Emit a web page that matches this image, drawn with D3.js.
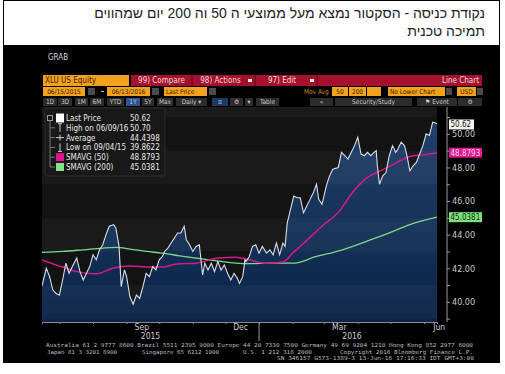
<!DOCTYPE html>
<html>
<head>
<meta charset="utf-8">
<script src="https://cdn.jsdelivr.net/npm/d3@7/dist/d3.min.js"></script>
<style>
  body { margin: 0; background: #fff; }
  #chart { position: relative; width: 505px; height: 374px; }
  #title {
    position: absolute; left: 4px; top: 4px; width: 481px;
    font-family: "Liberation Sans", Arial, sans-serif; font-size: 14px; line-height: 18px;
    color: #222; text-align: right; direction: rtl;
  }
</style>
</head>
<body>
<div id="chart"></div>
<script>
// price series (XLU, last price)
const priceDates = [
  "2015-06-15","2015-06-19","2015-06-22","2015-06-25","2015-06-28","2015-07-01","2015-07-04","2015-07-07",
  "2015-07-10","2015-07-13","2015-07-17","2015-07-20","2015-07-23","2015-07-26","2015-07-29","2015-08-01",
  "2015-08-04","2015-08-07","2015-08-10","2015-08-13","2015-08-16","2015-08-20","2015-08-22","2015-08-25",
  "2015-08-27","2015-08-30","2015-09-01","2015-09-04","2015-09-07","2015-09-10","2015-09-13","2015-09-16",
  "2015-09-19","2015-09-22","2015-09-25","2015-09-28","2015-10-01","2015-10-04","2015-10-06","2015-10-09",
  "2015-10-12","2015-10-15","2015-10-18","2015-10-21","2015-10-24","2015-10-26","2015-10-29","2015-11-01",
  "2015-11-04","2015-11-07","2015-11-10","2015-11-12","2015-11-15","2015-11-18","2015-11-21","2015-11-24",
  "2015-11-27","2015-11-30","2015-12-03","2015-12-06","2015-12-09","2015-12-12","2015-12-14","2015-12-17",
  "2015-12-19","2015-12-20","2015-12-23","2015-12-26","2015-12-29","2016-01-01","2016-01-04","2016-01-08",
  "2016-01-11","2016-01-14","2016-01-17","2016-01-20","2016-01-23","2016-01-25","2016-01-27","2016-01-30",
  "2016-02-02","2016-02-05","2016-02-08","2016-02-11","2016-02-14","2016-02-17","2016-02-20","2016-02-23",
  "2016-02-25","2016-02-28","2016-03-03","2016-03-06","2016-03-09","2016-03-14","2016-03-17","2016-03-20",
  "2016-03-23","2016-03-26","2016-03-29","2016-04-01","2016-04-04","2016-04-07","2016-04-10","2016-04-13",
  "2016-04-16","2016-04-18","2016-04-19","2016-04-21","2016-04-24","2016-04-27","2016-04-30","2016-05-03",
  "2016-05-06","2016-05-08","2016-05-11","2016-05-14","2016-05-16","2016-05-19","2016-05-22","2016-05-25",
  "2016-05-28","2016-05-31","2016-06-03","2016-06-06","2016-06-09","2016-06-13"
];
const priceValues = [
  40.95,42.0,41.5,40.7,40.5,40.4,41.3,42.3,
  41.7,42.1,42.6,41.8,41.3,41.7,42.1,42.8,
  42.5,43.1,43.4,44.0,44.5,44.6,44.4,43.3,
  40.9,41.9,41.5,40.3,39.86,40.4,40.2,40.9,
  41.7,41.5,42.1,41.9,42.5,42.7,43.0,43.2,
  43.5,43.8,44.1,44.1,44.5,43.7,43.4,43.0,
  43.3,43.4,41.6,42.3,41.9,42.3,41.8,42.4,
  41.9,42.2,41.7,41.3,41.7,41.4,41.1,41.5,
  42.5,42.4,42.7,43.3,43.4,42.9,43.3,42.9,
  43.1,42.8,43.5,42.8,43.5,43.3,44.7,45.5,
  46.3,46.2,46.2,45.3,45.7,46.1,46.5,47.0,
  46.1,45.8,46.9,47.5,47.9,48.0,48.9,48.7,
  48.5,48.9,49.3,49.8,48.8,48.7,48.9,48.7,
  48.9,49.0,48.1,47.0,47.5,47.7,48.7,49.3,
  48.9,49.1,49.5,49.3,48.8,47.8,48.1,48.3,
  48.8,49.3,50.0,49.9,50.7,50.62
];

// 50 day simple moving average
const sma50Dates = ["2015-06-15","2015-07-04","2015-07-17","2015-08-04","2015-08-19","2015-09-04","2015-09-22",
  "2015-10-04","2015-10-17","2015-11-04","2015-11-23","2015-12-11","2015-12-23","2016-01-08","2016-01-23",
  "2016-02-01","2016-02-13","2016-02-28","2016-03-15","2016-03-27","2016-04-09","2016-04-24","2016-05-06",
  "2016-05-19","2016-05-31","2016-06-13"];
const sma50Values = [42.5,42.07,41.8,41.67,42.0,42.14,42.07,42.07,42.26,42.3,42.6,42.66,42.5,42.3,42.37,
  42.9,43.6,44.5,45.4,46.5,47.37,47.86,48.26,48.65,48.75,48.88];

// 200 day simple moving average
const sma200Dates = ["2015-06-15","2015-07-04","2015-07-23","2015-08-10","2015-08-22","2015-09-04","2015-09-19",
  "2015-10-04","2015-10-20","2015-11-04","2015-11-23","2015-12-11","2015-12-23","2016-01-11","2016-02-01",
  "2016-02-23","2016-03-18","2016-04-09","2016-04-30","2016-05-19","2016-06-13"];
const sma200Values = [42.94,43.0,43.1,43.2,43.24,43.14,43.0,42.9,42.74,42.6,42.44,42.3,42.27,42.3,42.3,
  42.7,43.1,43.6,44.1,44.6,45.04];

// axis labels
const monthLabels = ["Sep","Dec","Mar","Jun"];
const monthLabelDates = ["2015-09-15","2015-12-15","2016-03-15","2016-06-15"];
const yearLabels = ["2015","2016"];
const yTicks = [39,40,41,42,43,44,45,46,47,48,49,50,51];

// legend
const legendLabels = ["Last Price","High on 06/09/16","Average","Low on 09/04/15","SMAVG (50)","SMAVG (200)"];
const legendValues = ["50.62","50.70","44.4398","39.8622","48.8793","45.0381"];

const parse = d3.timeParse("%Y-%m-%d");
const price = priceDates.map((d, i) => ({date: parse(d), value: priceValues[i]}));
const sma50 = sma50Dates.map((d, i) => ({date: parse(d), value: sma50Values[i]}));
const sma200 = sma200Dates.map((d, i) => ({date: parse(d), value: sma200Values[i]}));

const W = 505, H = 374;
const plot = {left: 42, right: 437, top: 107, bottom: 322};
const uiFont = '"Liberation Sans Narrow", "DejaVu Sans Condensed", "Arial Narrow", sans-serif';

d3.select("#chart").append("div").attr("id", "title")
  .html("נקודת כניסה - הסקטור נמצא מעל ממוצעי ה 50 וה 200 יום שמהווים<br>תמיכה טכנית");

const svg = d3.select("#chart").append("svg")
  .attr("width", W).attr("height", H)
  .style("position", "absolute").style("left", 0).style("top", 0)
  .style("z-index", 0);
d3.select("#title").style("z-index", 1);

// frame
svg.append("rect").attr("x", 3.5).attr("y", 0.5).attr("width", 496).attr("height", 46)
  .attr("fill", "none").attr("stroke", "#000");
svg.append("rect").attr("x", 3).attr("y", 45).attr("width", 497).attr("height", 318).attr("fill", "#000");

svg.append("text").attr("x", 48).attr("y", 60).attr("fill", "#ddd")
  .style("font-family", uiFont).style("font-size", "8px").text("GRAB");

// toolbar helper
function box(x, y, w, h, fill, label, color, anchor, size) {
  svg.append("rect").attr("x", x).attr("y", y).attr("width", w).attr("height", h).attr("fill", fill);
  if (label) {
    const tx = anchor === "middle" ? x + w / 2 : anchor === "end" ? x + w - 3 : x + 2;
    svg.append("text").attr("x", tx).attr("y", y + h / 2 + (size || 8) * 0.36)
      .attr("text-anchor", anchor || "start").attr("fill", color)
      .style("font-family", uiFont).style("font-size", (size || 8) + "px").text(label);
  }
}

// row 1
box(43, 75, 86, 11, "#f3a21e", "XLU US Equity", "#3b2000", "start");
box(131, 75, 351, 11, "#a3112e");
[192, 255, 317].forEach(x => svg.append("line").attr("x1", x).attr("x2", x).attr("y1", 75).attr("y2", 86)
  .attr("stroke", "#5a0818"));
box(131, 75, 61, 11, "none", "99) Compare", "#f4dada", "middle");
box(193, 75, 55, 11, "none", "98) Actions", "#f4dada", "middle");
box(256, 75, 52, 11, "none", "97) Edit", "#f4dada", "middle");
box(248, 79, 4, 3, "#eee"); box(310, 79, 4, 3, "#eee");
box(318, 75, 164, 11, "none", "Line Chart", "#f4dada", "end");

// row 2
const grey = "#4a4a4a";
const orange = "#f3a21e", ink = "#3b2000";
box(43, 87, 42, 9, orange, "06/15/2015", ink, "middle", 6.5);
box(88, 88, 7, 7, grey);
box(101, 91, 3, 1, "#bbb");
box(107, 87, 43, 9, orange, "06/13/2016", ink, "middle", 6.5);
box(152, 88, 7, 7, grey);
box(164, 87, 43, 9, orange, "Last Price", ink, "start", 6.5);
box(209, 88, 7, 7, grey);
box(302, 87, 29, 9, "none", "Mov Avg", "#d8861a", "start", 6.5);
box(332, 87, 16, 9, orange, "50", ink, "middle", 6.5);
box(349, 87, 17, 9, orange, "200", ink, "middle", 6.5);
box(367, 87, 14, 9, orange);
box(388, 87, 57, 9, orange, "No Lower Chart", ink, "start", 6.5);
box(446, 88, 6, 7, grey);
box(457, 87, 19, 9, orange, "USD", ink, "middle", 6.5);
box(477, 88, 6, 7, grey);

// row 3
const row3 = [
  [43, 14, "1D"], [58, 14, "3D"], [75, 13, "1M"], [90, 14, "6M"], [107, 17, "YTD"], [126, 14, "1Y"],
  [142, 12, "5Y"], [157, 16, "Max"], [176, 31, "Daily \u25BE"], [212, 16, "\u2261"], [230, 13, "\u2699"],
  [245, 8, "\u25BE"], [256, 23, "Table"], [310, 23, "\u00AB"], [335, 77, "Security/Study"],
  [417, 40, "\u2691  Event"], [458, 24, "\u2699"]
];
row3.forEach(b => box(b[0], 98, b[1], 8,
  b[2] === "1Y" ? "#2b5597" : b[2] === "\u2261" ? "#1c3a66" : "#2c2c2c", b[2], "#c8c8c8", "middle", 6.5));

// scales
const x = d3.scaleTime().domain([parse("2015-06-15"), parse("2016-06-13")]).range([plot.left, plot.right]);
const y = d3.scaleLinear().domain([38.8, 51.6]).range([plot.bottom, plot.top]);

// plot background
svg.append("rect").attr("x", plot.left).attr("y", plot.top)
  .attr("width", plot.right - plot.left).attr("height", plot.bottom - plot.top).attr("fill", "#131313");

const defs = svg.append("defs");
const grad = defs.append("linearGradient").attr("id", "navy")
  .attr("gradientUnits", "userSpaceOnUse").attr("x1", 0).attr("x2", 0)
  .attr("y1", plot.top).attr("y2", plot.bottom);
grad.append("stop").attr("offset", "0%").attr("stop-color", "#22426d");
grad.append("stop").attr("offset", "100%").attr("stop-color", "#0b2447");
defs.append("clipPath").attr("id", "clip").append("rect")
  .attr("x", plot.left).attr("y", plot.top)
  .attr("width", plot.right - plot.left).attr("height", plot.bottom - plot.top);

const g = svg.append("g").attr("clip-path", "url(#clip)");

g.append("path").datum(price)
  .attr("fill", "url(#navy)")
  .attr("d", d3.area().x(d => x(d.date)).y0(plot.bottom).y1(d => y(d.value)));

// faint horizontal bands
[[39, 41], [43, 45], [47, 49], [51, 53]].forEach(b => {
  g.append("rect").attr("x", plot.left).attr("width", plot.right - plot.left)
    .attr("y", y(b[1])).attr("height", y(b[0]) - y(b[1]))
    .attr("fill", "#fff").attr("opacity", 0.03);
});

g.append("path").datum(sma200)
  .attr("fill", "none").attr("stroke", "#7fd88a").attr("stroke-width", 1.3)
  .attr("d", d3.line().x(d => x(d.date)).y(d => y(d.value)).curve(d3.curveMonotoneX));
g.append("path").datum(sma50)
  .attr("fill", "none").attr("stroke", "#d8178f").attr("stroke-width", 1.5)
  .attr("d", d3.line().x(d => x(d.date)).y(d => y(d.value)).curve(d3.curveMonotoneX));
g.append("path").datum(price)
  .attr("fill", "none").attr("stroke", "#d6dde6").attr("stroke-width", 1.1)
  .attr("d", d3.line().x(d => x(d.date)).y(d => y(d.value)));

// y axis
const yAxis = svg.append("g").attr("transform", "translate(447,0)")
  .call(d3.axisRight(y).tickValues(yTicks).tickSize(3)
    .tickFormat(d => d % 2 === 0 ? d3.format(".2f")(d) : ""));
yAxis.select(".domain").attr("stroke", "#9a9a9a").attr("d", `M0,${plot.top}V${plot.bottom}`);
yAxis.selectAll("line").attr("stroke", "#9a9a9a");
yAxis.selectAll("text").attr("fill", "#c8c8c8").attr("x", 5)
  .style("font-family", uiFont).style("font-size", "9px");

// current value tags
const tags = [
  {v: priceValues[priceValues.length - 1], label: "50.62", fill: "#f4f4f4", color: "#111", w: 25},
  {v: sma50Values[sma50Values.length - 1], label: "48.8793", fill: "#e0168f", color: "#f6d6ea", w: 33},
  {v: sma200Values[sma200Values.length - 1], label: "45.0381", fill: "#7ee07e", color: "#0c300c", w: 33}
];
tags.forEach(t => {
  const ty = y(t.v) + (t.label === "50.62" ? 1 : 0);
  svg.append("rect").attr("x", 449).attr("y", ty - 5).attr("width", t.w).attr("height", 10)
    .attr("fill", t.fill);
  svg.append("text").attr("x", 450.5).attr("y", ty + 3).attr("fill", t.color)
    .style("font-family", uiFont).style("font-size", "8px").text(t.label);
});

// x axis
const xAxis = svg.append("g").attr("transform", `translate(0,${plot.bottom})`)
  .call(d3.axisBottom(x).ticks(d3.timeMonth.every(1)).tickSize(2).tickFormat(""));
xAxis.select(".domain").attr("stroke", "#8c8c8c");
xAxis.selectAll("line").attr("stroke", "#8c8c8c");

svg.selectAll(".month").data(monthLabels).enter().append("text")
  .attr("x", (d, i) => x(parse(monthLabelDates[i])))
  .attr("y", 330).attr("text-anchor", "middle").attr("fill", "#d0d0d0")
  .style("font-family", uiFont).style("font-size", "8.5px").text(d => d);

const yearStart = parse("2016-01-01");
svg.append("line").attr("x1", x(yearStart)).attr("x2", x(yearStart))
  .attr("y1", plot.bottom).attr("y2", 341).attr("stroke", "#9a9a9a");
svg.selectAll(".year").data(yearLabels).enter().append("text")
  .attr("x", (d, i) => i === 0 ? (plot.left + x(yearStart)) / 2 : (x(yearStart) + plot.right) / 2 + 4)
  .attr("y", 339).attr("text-anchor", "middle").attr("fill", "#d0d0d0")
  .style("font-family", uiFont).style("font-size", "8.5px").text(d => d);

// legend
const lg = svg.append("g");
lg.append("rect").attr("x", 45).attr("y", 108).attr("width", 120).attr("height", 68).attr("rx", 2)
  .attr("fill", "#181818").attr("stroke", "#2c2c2c");
lg.append("line").attr("x1", 50).attr("x2", 50).attr("y1", 121).attr("y2", 167).attr("stroke", "#777");
lg.append("rect").attr("x", 47.5).attr("y", 115.5).attr("width", 5).attr("height", 5)
  .attr("fill", "#181818").attr("stroke", "#999");
legendLabels.forEach((lab, i) => {
  const ry = 118 + i * 9.8;
  if (i > 0) lg.append("line").attr("x1", 50).attr("x2", 55).attr("y1", ry).attr("y2", ry).attr("stroke", "#777");
  if (i === 0) lg.append("rect").attr("x", 56).attr("y", ry - 4.5).attr("width", 8).attr("height", 9).attr("fill", "#fff");
  if (i === 1 || i === 3) {
    lg.append("line").attr("x1", 60).attr("x2", 60).attr("y1", ry - 4).attr("y2", ry + 4).attr("stroke", "#ccc");
    lg.append("line").attr("x1", 58).attr("x2", 62)
      .attr("y1", i === 1 ? ry - 4 : ry + 4).attr("y2", i === 1 ? ry - 4 : ry + 4).attr("stroke", "#ccc");
  }
  if (i === 2) {
    lg.append("line").attr("x1", 56).attr("x2", 64).attr("y1", ry).attr("y2", ry).attr("stroke", "#ccc");
    lg.append("line").attr("x1", 60).attr("x2", 60).attr("y1", ry - 3).attr("y2", ry + 3).attr("stroke", "#ccc");
  }
  if (i === 4) lg.append("rect").attr("x", 56).attr("y", ry - 4).attr("width", 8).attr("height", 8).attr("fill", "#e0168f");
  if (i === 5) lg.append("rect").attr("x", 56).attr("y", ry - 4).attr("width", 8).attr("height", 8).attr("fill", "#86e286");
  lg.append("text").attr("x", 66).attr("y", ry + 3).attr("fill", "#e8e8e8")
    .style("font-family", uiFont).style("font-size", "8px").text(lab);
  lg.append("text").attr("x", 130).attr("y", ry + 3).attr("fill", "#e8e8e8")
    .style("font-family", uiFont).style("font-size", "8px").text(legendValues[i]);
});

// footer
const mono = '"DejaVu Sans Mono", "Liberation Mono", monospace';
const foot = [
  {x: 46, y: 347, len: 427, t: "Australia 61 2 9777 8600 Brazil 5511 2395 9000 Europe 44 20 7330 7500 Germany 49 69 9204 1210 Hong Kong 852 2977 6000"},
  {x: 47, y: 354, len: 70, t: "Japan 81 3 3201 8900"},
  {x: 142, y: 354, len: 77, t: "Singapore 65 6212 1000"},
  {x: 243, y: 354, len: 69, t: "U.S. 1 212 318 2000"},
  {x: 340, y: 354, len: 133, t: "Copyright 2016 Bloomberg Finance L.P."},
  {x: 277, y: 360, len: 197, t: "SN 346157 G573-1389-3 13-Jun-16 17:16:33 IDT  GMT+3:00"}
];
foot.forEach(f => {
  svg.append("text").attr("x", f.x).attr("y", f.y)
    .attr("fill", "#bdbdbd").style("font-family", mono).style("font-size", "5.5px")
    .attr("textLength", f.len).attr("lengthAdjust", "spacingAndGlyphs").text(f.t);
});
</script>
</body>
</html>
